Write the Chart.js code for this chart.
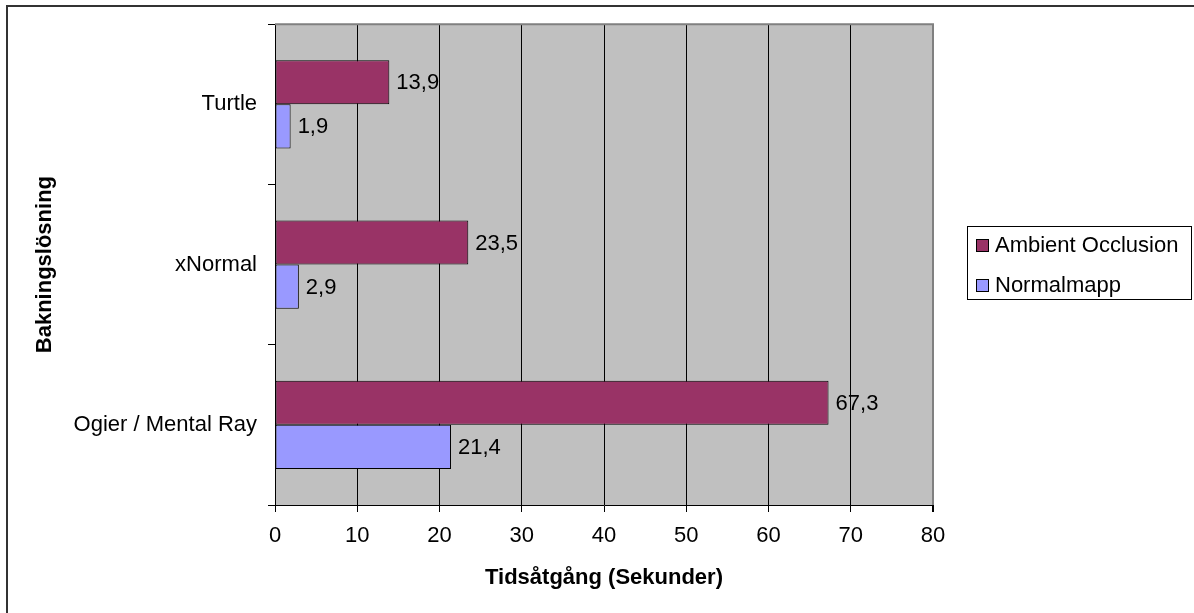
<!DOCTYPE html>
<html>
<head>
<meta charset="utf-8">
<script src="https://cdn.jsdelivr.net/npm/chart.js@4"></script>
<style>
  html, body { margin: 0; padding: 0; background: #fff; }
  #wrap { width: 1194px; height: 613px; }
</style>
</head>
<body>
<div id="wrap"><canvas id="chart" width="1194" height="613"></canvas></div>
<script>
const categories = ['Turtle', 'xNormal', 'Ogier / Mental Ray'];
const ambientOcclusion = [13.9, 23.5, 67.3];
const normalmapp = [1.9, 2.9, 21.4];
const seriesNames = ['Ambient Occlusion', 'Normalmapp'];
const xTicks = [0, 10, 20, 30, 40, 50, 60, 70, 80];

const FONT = '"Liberation Sans", Arial, sans-serif';

// gray plot background, gray top/right border, outer frame
const backdrop = {
  id: 'backdrop',
  beforeDraw(chart) {
    const {ctx, chartArea: a} = chart;
    ctx.save();
    ctx.fillStyle = '#fff';
    ctx.fillRect(0, 0, chart.width, chart.height);
    ctx.fillStyle = '#C0C0C0';
    ctx.fillRect(a.left, a.top, a.right - a.left, a.bottom - a.top);
    ctx.strokeStyle = '#333';
    ctx.lineWidth = 2;
    ctx.beginPath();
    ctx.moveTo(7, chart.height);
    ctx.lineTo(7, 6);
    ctx.lineTo(chart.width, 6);
    ctx.stroke();
    ctx.restore();
  },
  beforeDatasetsDraw(chart) {
    const {ctx, chartArea: a} = chart;
    ctx.save();
    ctx.strokeStyle = '#808080';
    ctx.lineWidth = 2;
    ctx.beginPath();
    ctx.moveTo(a.left, a.top);
    ctx.lineTo(a.right, a.top);
    ctx.lineTo(a.right, a.bottom);
    ctx.stroke();
    ctx.restore();
  }
};

// value labels next to bars, decimal comma
const valueLabels = {
  id: 'valueLabels',
  afterDatasetsDraw(chart) {
    const {ctx} = chart;
    ctx.save();
    ctx.font = '22px ' + FONT;
    ctx.fillStyle = '#000';
    ctx.textBaseline = 'middle';
    ctx.textAlign = 'left';
    chart.data.datasets.forEach((ds, i) => {
      chart.getDatasetMeta(i).data.forEach((bar, j) => {
        const txt = ds.data[j].toFixed(1).replace('.', ',');
        ctx.fillText(txt, bar.x + 7, bar.y + 1);
      });
    });
    ctx.restore();
  }
};

// boxed legend on the right
const boxLegend = {
  id: 'boxLegend',
  afterDraw(chart) {
    const {ctx} = chart;
    const x = 967, y = 226, w = 224, h = 73;
    ctx.save();
    ctx.fillStyle = '#fff';
    ctx.fillRect(x, y, w, h);
    ctx.strokeStyle = '#000';
    ctx.lineWidth = 1;
    ctx.strokeRect(x + 0.5, y + 0.5, w, h);
    ctx.font = '22px ' + FONT;
    ctx.textBaseline = 'middle';
    chart.data.datasets.forEach((ds, i) => {
      const cy = y + 19 + i * 40;
      ctx.fillStyle = ds.backgroundColor;
      ctx.fillRect(976, cy - 6, 13, 13);
      ctx.strokeRect(976.5, cy - 5.5, 12, 12);
      ctx.fillStyle = '#000';
      ctx.fillText(ds.label, 995, cy + 1);
    });
    ctx.restore();
  }
};

new Chart(document.getElementById('chart'), {
  type: 'bar',
  data: {
    labels: categories,
    datasets: [
      {
        label: seriesNames[0],
        data: ambientOcclusion,
        backgroundColor: '#993366',
        borderColor: '#000',
        borderWidth: 1,
        borderSkipped: false,
        categoryPercentage: 0.55,
        barPercentage: 1
      },
      {
        label: seriesNames[1],
        data: normalmapp,
        backgroundColor: '#9999FF',
        borderColor: '#000',
        borderWidth: 1,
        borderSkipped: false,
        categoryPercentage: 0.55,
        barPercentage: 1
      }
    ]
  },
  options: {
    indexAxis: 'y',
    responsive: false,
    animation: false,
    layout: { padding: { top: 23, left: 0, right: 261, bottom: 0 } },
    scales: {
      x: {
        min: xTicks[0],
        max: xTicks[xTicks.length - 1],
        afterFit(scale) { scale.height = 108; },
        afterBuildTicks(scale) { scale.ticks = xTicks.map(v => ({value: v})); },
        grid: {
          color: ctx => ctx.tick && ctx.tick.value === 80 ? '#808080' : '#000',
          tickColor: '#000',
          lineWidth: ctx => ctx.tick && ctx.tick.value === 80 ? 2 : 1,
          tickLength: 7
        },
        border: { color: '#000', width: 1 },
        ticks: { color: '#000', font: { family: FONT, size: 22 }, padding: 11 },
        title: {
          display: true,
          text: 'Tidsåtgång (Sekunder)',
          color: '#000',
          font: { family: FONT, size: 22, weight: 'bold' },
          padding: { top: 0, bottom: 22 }
        }
      },
      y: {
        afterFit(scale) { scale.width = 275; },
        grid: { drawOnChartArea: false, color: '#000', tickLength: 7 },
        border: { color: '#000', width: 1 },
        ticks: { color: '#000', font: { family: FONT, size: 22 }, padding: 11 },
        title: {
          display: true,
          text: 'Bakningslösning',
          color: '#000',
          font: { family: FONT, size: 22, weight: 'bold' },
          padding: { top: 32, bottom: 0 }
        }
      }
    },
    plugins: {
      legend: { display: false },
      tooltip: { enabled: false }
    }
  },
  plugins: [backdrop, valueLabels, boxLegend]
});
</script>
</body>
</html>
